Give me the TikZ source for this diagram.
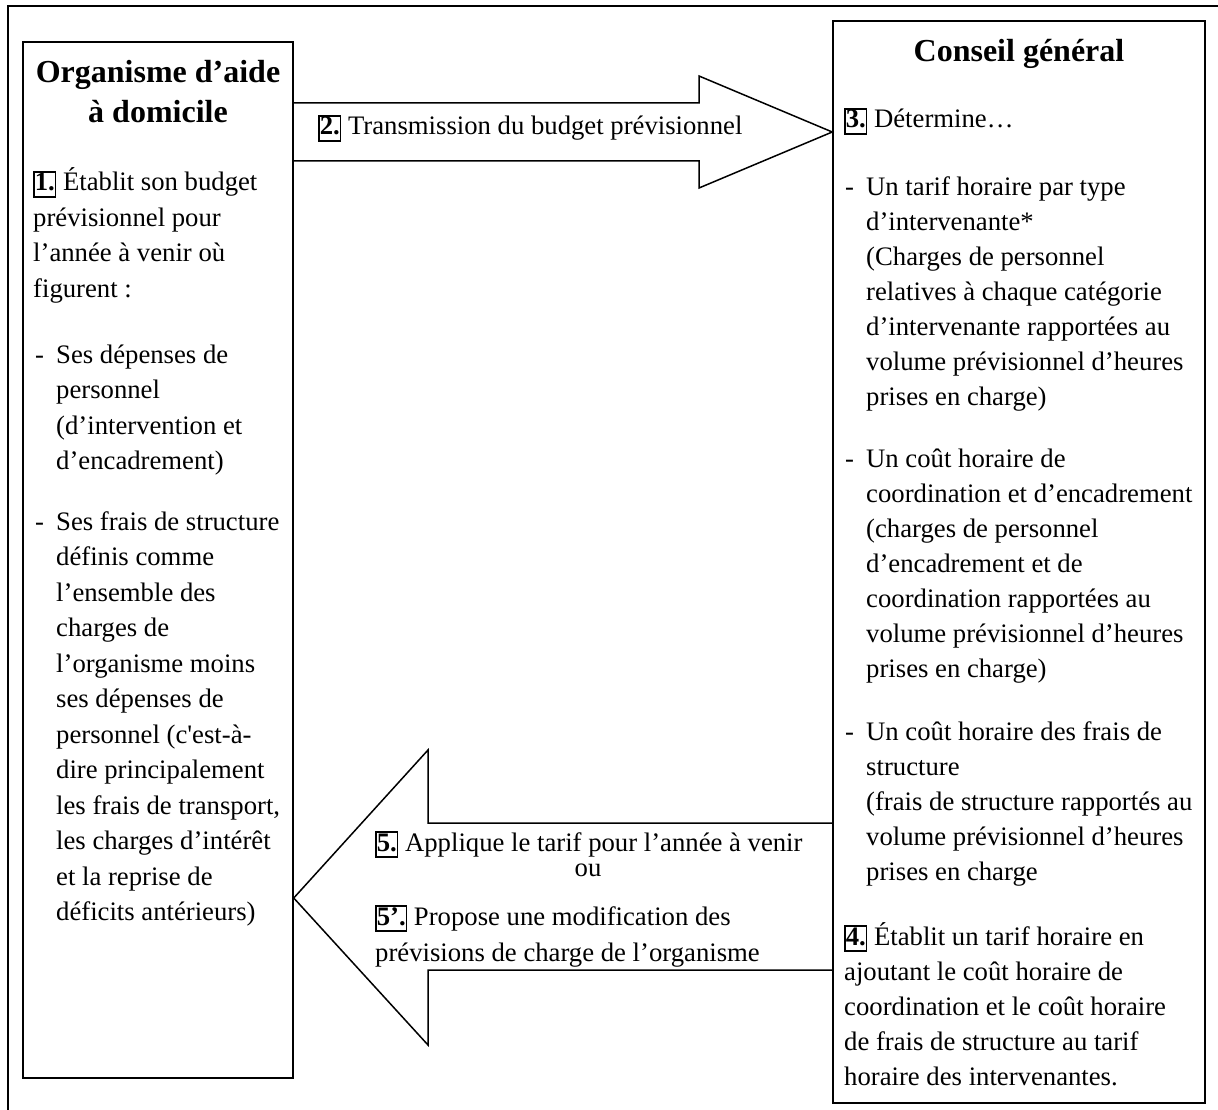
\documentclass[tikz,border=0pt]{standalone}
\usepackage{fontspec}
\setmainfont{Liberation Serif}
% family without TeX ligature mapping, for a straight apostrophe
\newfontfamily\rawserif{Liberation Serif}
\usetikzlibrary{calc}

\newcommand\bodyfont{\fontsize{26.7}{35}\selectfont}
\newcommand\leftfont{\fontsize{26.7}{35.5}\selectfont}
\newcommand\arrowfont{\fontsize{26.7}{36}\selectfont}
\newcommand\headfont{\fontsize{32}{40}\selectfont\bfseries}
% boxed step number
\newcommand\stepno[1]{{\setlength\fboxsep{0pt}\setlength\fboxrule{1.6pt}\fbox{\rule[-5pt]{0pt}{23pt}\textbf{#1}}}}
\newcommand\sq{{\rawserif'}}
% dash item and its hanging indent
\newcommand\dl{\makebox[21pt][l]{-}}
\newcommand\ind{\hspace*{21pt}}
\newcommand\lines[1]{\begin{tabular}[t]{@{}l@{}}#1\end{tabular}}
\newcommand\clines[1]{\begin{tabular}[t]{@{}c@{}}#1\end{tabular}}

\tikzset{
  frame/.style={draw, line width=1.5pt},
  panel/.style={draw, line width=1.5pt, inner sep=0pt},
  txt/.style={inner sep=0pt, anchor=base west, font=\bodyfont},
  ltxt/.style={txt, font=\leftfont},
  atxt/.style={txt, font=\arrowfont},
  head/.style={inner sep=0pt, anchor=base, font=\headfont},
  bigarrow/.style={draw, line width=1.5pt, line join=miter},
}

\begin{document}
\begin{tikzpicture}[x=1pt, y=-1pt]
\useasboundingbox (0,0) rectangle (1218,1110);

% outer frame (runs off the page on the right and at the bottom)
\draw[frame] (8,1112) -- (8,6) -- (1220,6);

% the two panels
\node[panel, minimum width=270pt, minimum height=1036pt] (org) at (158,560) {};
\node[panel, minimum width=372pt, minimum height=1082pt] (cg) at (1019,562) {};

% block arrow: organisme -> conseil
\draw[bigarrow] (org.east |- 0,103) -- (699,103) -- (699,76) -- (cg.west |- 0,132)
  -- (699,188) -- (699,161) -- (org.east |- 0,161);

% block arrow: conseil -> organisme
\draw[bigarrow] (cg.west |- 0,823) -- (428,823) -- (428,750) -- (org.east |- 0,898)
  -- (428,1045) -- (428,970) -- (cg.west |- 0,970);

% left panel
\node[head] (orgtitle) at (158,83) {\clines{Organisme d’aide\\à domicile}};
\node[ltxt] (p1) at (33,191) {\lines{\stepno{1.} Établit son budget\\prévisionnel pour\\l’année à venir où\\figurent :}};
\node[ltxt] (p2) at (35,363) {\lines{\dl Ses dépenses de\\\ind personnel\\\ind (d’intervention et\\\ind d’encadrement)}};
\node[ltxt] (p3) at (35,530) {\lines{\dl Ses frais de structure\\\ind définis comme\\\ind l’ensemble des\\\ind charges de\\\ind l’organisme moins\\\ind ses dépenses de\\\ind personnel (c\sq est-à-\\\ind dire principalement\\\ind les frais de transport,\\\ind les charges d’intérêt\\\ind et la reprise de\\\ind déficits antérieurs)}};

% upper arrow label
\node[txt] (t2) at (318,135) {\stepno{2.} Transmission du budget prévisionnel};

% right panel
\node[head] (cgtitle) at (1019,62) {Conseil général};
\node[txt] (p3a) at (844,128) {\stepno{3.} Détermine…};
\node[txt] (i1) at (845,196) {\lines{\dl Un tarif horaire par type\\\ind d’intervenante*\\\ind (Charges de personnel\\\ind relatives à chaque catégorie\\\ind d’intervenante rapportées au\\\ind volume prévisionnel d’heures\\\ind prises en charge)}};
\node[txt] (i2) at (845,467) {\lines{\dl Un coût horaire de\\\ind coordination et d’encadrement\\\ind (charges de personnel\\\ind d’encadrement et de\\\ind coordination rapportées au\\\ind volume prévisionnel d’heures\\\ind prises en charge)}};
\node[txt] (i3) at (845,740) {\lines{\dl Un coût horaire des frais de\\\ind structure\\\ind (frais de structure rapportés au\\\ind volume prévisionnel d’heures\\\ind prises en charge}};
\node[txt] (p4) at (844,945) {\lines{\stepno{4.} Établit un tarif horaire en\\ajoutant le coût horaire de\\coordination et le coût horaire\\de frais de structure au tarif\\horaire des intervenantes.}};

% lower arrow labels
\node[atxt] (t5) at (375,851) {\stepno{5.} Applique le tarif pour l’année à venir};
\node[atxt, anchor=base] (tou) at (588,876) {ou};
\node[atxt] (t5b) at (375,925) {\lines{\stepno{5’.} Propose une modification des\\prévisions de charge de l’organisme}};
\end{tikzpicture}
\end{document}
